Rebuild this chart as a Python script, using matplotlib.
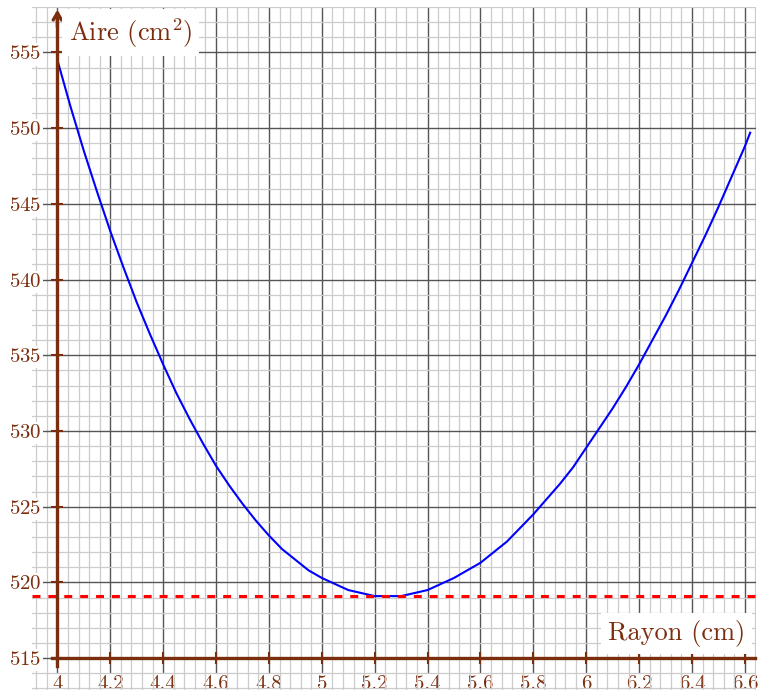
import matplotlib
matplotlib.use("Agg")
import matplotlib.pyplot as plt
from matplotlib.ticker import MultipleLocator

plt.rcParams['font.family'] = 'cmr10'
plt.rcParams['mathtext.fontset'] = 'cm'
plt.rcParams['axes.formatter.use_mathtext'] = True

# rayon (cm) et aire (cm2)
rayon = [4.0, 4.05, 4.1, 4.15, 4.2, 4.25, 4.3, 4.35, 4.4, 4.45, 4.5, 4.55,
         4.6, 4.65, 4.7, 4.75, 4.8, 4.85, 4.9, 4.95, 5.0, 5.05, 5.1, 5.15,
         5.2, 5.25, 5.3, 5.35, 5.4, 5.45, 5.5, 5.55, 5.6, 5.65, 5.7, 5.75,
         5.8, 5.85, 5.9, 5.95, 6.0, 6.05, 6.1, 6.15, 6.2, 6.25, 6.3, 6.35,
         6.4, 6.45, 6.5, 6.55, 6.6, 6.62]
aire = [554.5, 551.4, 548.5, 545.8, 543.2, 540.8, 538.5, 536.4, 534.4, 532.5,
        530.8, 529.2, 527.7, 526.4, 525.2, 524.1, 523.1, 522.2, 521.5, 520.8,
        520.3, 519.9, 519.5, 519.3, 519.1, 519.1, 519.1, 519.3, 519.5, 519.9,
        520.3, 520.8, 521.3, 522.0, 522.7, 523.6, 524.5, 525.5, 526.5, 527.6,
        528.9, 530.2, 531.5, 532.9, 534.4, 536.0, 537.6, 539.3, 541.1, 542.9,
        544.8, 546.8, 548.8, 549.7]
aire_min = 519.1

xticks = [4, 4.2, 4.4, 4.6, 4.8, 5, 5.2, 5.4, 5.6, 5.8, 6, 6.2, 6.4, 6.6]
xlabels = ['4', '4.2', '4.4', '4.6', '4.8', '5', '5.2', '5.4', '5.6', '5.8',
           '6', '6.2', '6.4', '6.6']
yticks = [515, 520, 525, 530, 535, 540, 545, 550, 555]

brun = '#7a2e0e'

fig = plt.figure(figsize=(7.66, 6.96), dpi=100)
ax = fig.add_axes([32 / 766, 1 - 690 / 696, 724 / 766, 683 / 696])

ax.plot(rayon, aire, color='blue', lw=1.5, zorder=3)
ax.axhline(aire_min, color='red', lw=2.2, dashes=(2.6, 2.6), zorder=3)

ax.set_xlim(3.904, 6.642)
ax.set_ylim(512.9, 558.0)

# grille
ax.xaxis.set_minor_locator(MultipleLocator(0.04))
ax.yaxis.set_minor_locator(MultipleLocator(1))
ax.set_xticks(xticks)
ax.set_xticklabels(xlabels)
ax.set_yticks(yticks)
ax.grid(which='major', color='#555555', lw=1.0)
ax.grid(which='minor', color='#cccccc', lw=0.9)
ax.set_axisbelow(True)

# axes
for s in ['top', 'right']:
    ax.spines[s].set_visible(False)
ax.spines['left'].set_position(('data', 4))
ax.spines['bottom'].set_position(('data', 515))
ax.spines['left'].set_bounds(514.5, 557.6)
ax.spines['bottom'].set_bounds(3.98, 6.64)
for s in ['left', 'bottom']:
    ax.spines[s].set_color(brun)
    ax.spines[s].set_linewidth(2.4)
    ax.spines[s].set_zorder(4)

ax.tick_params(which='major', direction='inout', length=9, width=1.5,
               color=brun, labelcolor=brun, labelsize=15)
ax.tick_params(axis='x', which='major', pad=8)
ax.tick_params(axis='y', which='major', pad=7)
ax.tick_params(which='minor', length=0)
for lab in ax.get_xticklabels() + ax.get_yticklabels():
    lab.set_bbox(dict(facecolor='white', edgecolor='none', pad=1.5))

# fleches
ax.annotate('', xy=(4, 558.0), xytext=(4, 556.5),
            arrowprops=dict(arrowstyle='->,head_length=0.5,head_width=0.3',
                            color=brun, lw=2.4), zorder=5)
ax.annotate('', xy=(6.645, 515), xytext=(6.6, 515),
            arrowprops=dict(arrowstyle='->,head_length=0.5,head_width=0.3',
                            color=brun, lw=2.4), zorder=5)

ax.text(4.276, 556.3, 'Aire (cm$^2$)', color=brun, fontsize=19,
        ha='center', va='center', zorder=6,
        bbox=dict(facecolor='white', edgecolor='none', pad=5))
ax.text(6.34, 516.65, 'Rayon (cm)', color=brun, fontsize=19,
        ha='center', va='center', zorder=6,
        bbox=dict(facecolor='white', edgecolor='none', pad=5))

fig.savefig('out.png', dpi=100)
